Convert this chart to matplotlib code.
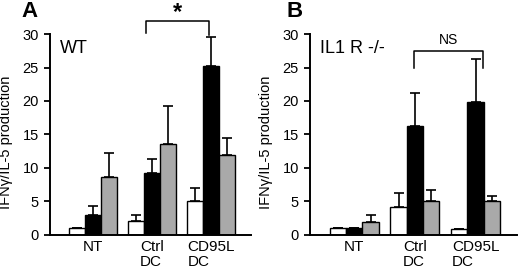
import numpy as np
import matplotlib
matplotlib.use('Agg')
import matplotlib.pyplot as plt

plt.rcParams['font.family'] = ['Liberation Sans', 'DejaVu Sans']

groups = ['NT', 'Ctrl\nDC', 'CD95L\nDC']

# panel A (WT): white / black / gray bars, top of error bar
a_white = [1.0, 2.1, 5.0]
a_white_err = [1.0, 2.9, 7.0]
a_black = [2.9, 9.2, 25.2]
a_black_err = [4.3, 11.3, 29.6]
a_gray = [8.6, 13.6, 12.0]
a_gray_err = [12.3, 19.3, 14.5]

# panel B (IL1 R -/-)
b_white = [1.0, 4.1, 0.9]
b_white_err = [1.0, 6.2, 0.9]
b_black = [1.0, 16.2, 19.9]
b_black_err = [1.0, 21.2, 26.2]
b_gray = [2.0, 5.0, 5.0]
b_gray_err = [3.0, 6.7, 5.8]

fig = plt.figure(figsize=(5.2, 2.7), dpi=100)
axA = fig.add_axes([0.096, 0.130, 0.387, 0.744])
axB = fig.add_axes([0.596, 0.130, 0.398, 0.744])

w = 0.27
x = np.arange(len(groups))


def draw_panel(ax, white, white_top, black, black_top, gray, gray_top, title):
    series = [(white, white_top, 'white'), (black, black_top, 'black'), (gray, gray_top, '#a9a9a9')]
    for i, (vals, tops, col) in enumerate(series):
        pos = x + (i - 1) * w
        ax.bar(pos, vals, width=w, color=col, edgecolor='black', linewidth=1.0, zorder=2)
        up = np.array(tops) - np.array(vals)
        ax.errorbar(pos, vals, yerr=[np.zeros(len(vals)), up], fmt='none', ecolor='black',
                    elinewidth=1.2, capsize=3.5, capthick=1.2, zorder=1)
    ax.set_xlim(-0.73, 2.68)
    ax.set_ylim(0, 30)
    ax.set_yticks([0, 5, 10, 15, 20, 25, 30])
    ax.set_xticks(x)
    ax.set_xticklabels(groups, fontsize=11, multialignment='left', linespacing=1.05)
    ax.tick_params(axis='x', length=0, pad=4)
    ax.tick_params(axis='y', length=4, width=1.3, labelsize=10.5, pad=4)
    for s in ['top', 'right']:
        ax.spines[s].set_visible(False)
    for s in ['left', 'bottom']:
        ax.spines[s].set_linewidth(1.4)
    ax.set_ylabel('IFNγ/IL-5 production', fontsize=10.5)
    ax.text(0.05, 0.97, title, transform=ax.transAxes, fontsize=13, va='top', ha='left')


draw_panel(axA, a_white, a_white_err, a_black, a_black_err, a_gray, a_gray_err, 'WT')
draw_panel(axB, b_white, b_white_err, b_black, b_black_err, b_gray, b_gray_err, 'IL1 R -/-')
axA.yaxis.set_label_coords(-0.185, 0.46)
axB.yaxis.set_label_coords(-0.18, 0.46)

# significance brackets
axA.plot([0.90, 0.90, 1.97, 1.97], [30.1, 31.9, 31.9, 29.8], color='black', lw=1.1, clip_on=False)
fig.text(0.342, 0.998, '*', ha='center', va='top', fontsize=17, fontweight='bold')
axB.plot([0.99, 0.99, 2.12, 2.12], [24.9, 27.5, 27.5, 24.9], color='black', lw=1.1, clip_on=False)
axB.text(1.55, 28.0, 'NS', ha='center', va='bottom', fontsize=10)

fig.text(0.042, 0.995, 'A', fontsize=16, fontweight='bold', va='top', ha='left')
fig.text(0.550, 0.995, 'B', fontsize=16, fontweight='bold', va='top', ha='left')

fig.savefig('out.png', dpi=100)
